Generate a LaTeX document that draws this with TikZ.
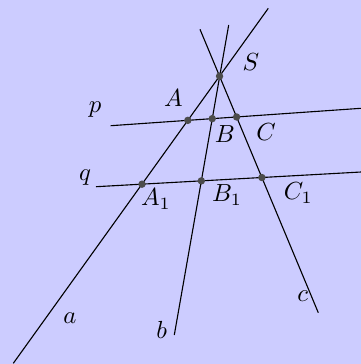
\documentclass[tikz,border=0pt]{standalone}
\usepackage{amsmath}
\usetikzlibrary{calc}

\tikzset{
  pt/.style={circle,fill=black!70,inner sep=0pt,minimum size=3pt},
  ln/.style={line width=0.45pt},
  lbl/.style={inner sep=0pt}
}

\begin{document}
\begin{tikzpicture}[x=0.0142cm,y=-0.0142cm,font=\normalsize]
  \fill[blue!20] (0,0) rectangle (361,364);
  \useasboundingbox (0,0) rectangle (361,364);

  % rays through S
  \coordinate (aTop) at (268.3,8.3);
  \coordinate (aEnd) at (13.3,363.3);
  \coordinate (bTop) at (228.7,25);
  \coordinate (bEnd) at (174.3,335);
  \coordinate (cTop) at (200,29.3);
  \coordinate (cEnd) at (318.3,312.7);
  % parallels
  \coordinate (pL) at (110.7,125.7);
  \coordinate (pR) at (361,108.3);
  \coordinate (qL) at (96,186.7);
  \coordinate (qR) at (361,172);

  \coordinate (S) at (intersection of aTop--aEnd and cTop--cEnd);
  \coordinate (A) at (intersection of aTop--aEnd and pL--pR);
  \coordinate (B) at (intersection of bTop--bEnd and pL--pR);
  \coordinate (C) at (intersection of cTop--cEnd and pL--pR);
  \coordinate (A1) at (intersection of aTop--aEnd and qL--qR);
  \coordinate (B1) at (intersection of bTop--bEnd and qL--qR);
  \coordinate (C1) at (intersection of cTop--cEnd and qL--qR);

  \draw[ln] (aTop) -- (aEnd);
  \draw[ln] (bTop) -- (bEnd);
  \draw[ln] (cTop) -- (cEnd);
  \draw[ln] (pL) -- (pR);
  \draw[ln] (qL) -- (qR);

  \foreach \p in {S,A,B,C,A1,B1,C1}
    \node[pt] (dot\p) at (\p) {};

  \node[lbl] (lblS) at (251,61.7) {$S$};
  \node[lbl] (lblA) at (173.3,98.3) {$A$};
  \node[lbl] (lblB) at (225,134) {$B$};
  \node[lbl] (lblC) at (266,131.7) {$C$};
  \node[lbl] (lblA1) at (156,199) {$A_1$};
  \node[lbl] (lblB1) at (227,195) {$B_1$};
  \node[lbl] (lblC1) at (298.3,193.3) {$C_1$};
  \node[lbl] (lblp) at (95,109.3) {$p$};
  \node[lbl] (lblq) at (85,177.3) {$q$};
  \node[lbl] (lbla) at (70,318.3) {$a$};
  \node[lbl] (lblb) at (161.7,330) {$b$};
  \node[lbl] (lblc) at (302.7,296) {$c$};
\end{tikzpicture}
\end{document}
